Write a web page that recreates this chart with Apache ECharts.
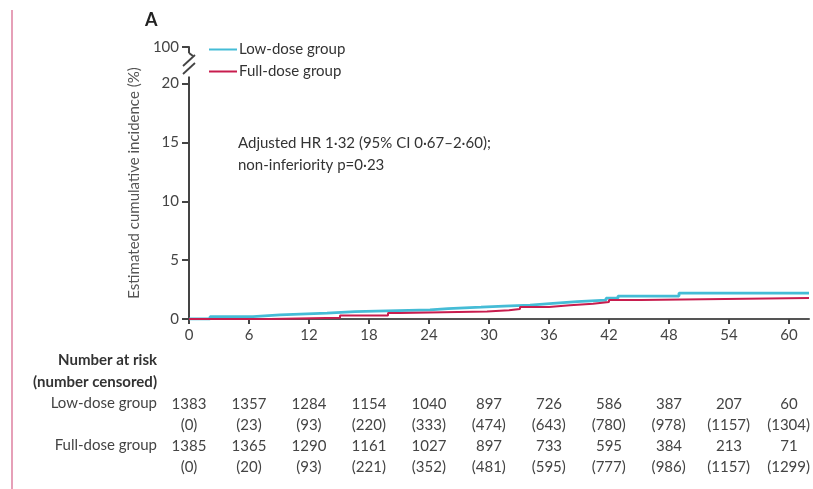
<!DOCTYPE html>
<html>
<head>
<meta charset="utf-8">
<script src="https://cdn.jsdelivr.net/npm/echarts@6/dist/echarts.min.js"></script>
<style>
html,body{margin:0;padding:0;background:#fff;}
#container{width:813px;height:489px;}
</style>
</head>
<body>
<div id="container"></div>
<script type="text/javascript">
// months shown on the x axis
var months = [0, 6, 12, 18, 24, 30, 36, 42, 48, 54, 60];
// y ticks below the break, and the value standing for "100" above it
var yTicks = [0, 5, 10, 15, 20];
var yTop = 23.1;

// cumulative incidence step curves (months, %)
var lowTime = [0, 2.1, 6.4, 9.1, 13.8, 16.6, 24.1, 25.9, 29.2, 31.5, 34.1, 36.4, 38.8, 41.7, 42.9, 49, 62];
var lowInc  = [0, 0.2, 0.35, 0.5, 0.62, 0.78, 0.88, 1.0, 1.1, 1.17, 1.32, 1.47, 1.6, 1.77, 1.95, 2.2, 2.2];
var fullTime = [0, 8.1, 15.1, 19.9, 21.1, 29.8, 32, 33.1, 36, 38.1, 40.4, 42, 45.2, 62];
var fullInc  = [0, 0.1, 0.3, 0.5, 0.64, 0.74, 0.84, 1.02, 1.17, 1.3, 1.44, 1.62, 1.78, 1.78];

// number at risk / censored
var lowRisk  = [1383, 1357, 1284, 1154, 1040, 897, 726, 586, 387, 207, 60];
var lowCens  = [0, 23, 93, 220, 333, 474, 643, 780, 978, 1157, 1304];
var fullRisk = [1385, 1365, 1290, 1161, 1027, 897, 733, 595, 384, 213, 71];
var fullCens = [0, 20, 93, 221, 352, 481, 595, 777, 986, 1157, 1299];

var FONT = 'Lato';
var cyan = '#45bcd6';
var red = '#c81d4e';

function pairs(t, v) {
	return t.map(function (x, i) { return [x, v[i]]; });
}

// one hidden axis per row of the risk table, labels placed on the month ticks
var rowTops = [403, 424, 445, 466];
var rowData = [lowRisk, lowCens, fullRisk, fullCens];
var rowParen = [false, true, false, true];

var grids = [{left: 189, right: 4, top: 47, bottom: 170}];
var xAxes = [{
	type: 'value', gridIndex: 0, min: 0, max: 62,
	axisLine: {lineStyle: {color: '#555', width: 2}},
	axisTick: {customValues: months, length: 5, lineStyle: {color: '#444', width: 2}},
	axisLabel: {customValues: months, color: '#444', fontSize: 15, fontFamily: FONT, margin: 9},
	splitLine: {show: false}
}];
rowTops.forEach(function (top, r) {
	grids.push({left: 189, right: 4, top: top, height: 1});
	xAxes.push({
		type: 'value', gridIndex: r + 1, min: 0, max: 62,
		axisLine: {show: false}, axisTick: {show: false}, splitLine: {show: false},
		axisLabel: {
			customValues: months, margin: 0, verticalAlign: 'middle',
			color: '#444', fontSize: 15, fontFamily: FONT,
			formatter: function (v) {
				var n = rowData[r][months.indexOf(v)];
				return rowParen[r] ? '(' + n + ')' : String(n);
			}
		}
	});
});

var yAxes = [{
	type: 'value', gridIndex: 0, min: 0, max: yTop,
	name: 'Estimated cumulative incidence (%)', nameLocation: 'middle', nameGap: 43,
	nameTextStyle: {color: '#555', fontSize: 15, fontFamily: FONT},
	axisLine: {show: true, lineStyle: {color: '#444', width: 2}},
	axisTick: {customValues: yTicks.concat([yTop]), length: 7, lineStyle: {color: '#444', width: 2}},
	axisLabel: {
		customValues: yTicks.concat([yTop]), color: '#444', fontSize: 15, fontFamily: FONT, margin: 10,
		formatter: function (v) { return v === yTop ? '100' : String(v); }
	},
	splitLine: {show: false}
}];
rowTops.forEach(function (top, r) {
	yAxes.push({type: 'value', gridIndex: r + 1, show: false});
});

var myChart = echarts.init(document.getElementById('container'));
var option = {
	animation: false,
	grid: grids,
	xAxis: xAxes,
	yAxis: yAxes,
	legend: {
		orient: 'vertical', left: 204, top: 37, itemGap: 7,
		itemWidth: 28, itemHeight: 2, icon: 'rect',
		textStyle: {color: '#333', fontSize: 15, fontFamily: FONT, padding: [0, 0, 0, -3]},
		data: ['Low-dose group', 'Full-dose group']
	},
	series: [
		{
			name: 'Low-dose group', type: 'line', step: 'end', showSymbol: false,
			color: cyan, lineStyle: {width: 2.8, color: cyan},
			data: pairs(lowTime, lowInc)
		},
		{
			name: 'Full-dose group', type: 'line', step: 'end', showSymbol: false,
			color: red, lineStyle: {width: 2, color: red},
			data: pairs(fullTime, fullInc)
		}
	]
};
myChart.setOption(option);

// axis break, labels and the table captions
var p20 = myChart.convertToPixel({xAxisIndex: 0, yAxisIndex: 0}, [0, 20]);
var pTop = myChart.convertToPixel({xAxisIndex: 0, yAxisIndex: 0}, [0, yTop]);
var ax = p20[0], yb = p20[1] - 7, yt = pTop[1] + 6;
var txt = {fill: '#444', font: '15px ' + FONT, textAlign: 'right', textVerticalAlign: 'middle'};
var bold = {fill: '#333', font: 'bold 15px ' + FONT, textAlign: 'right', textVerticalAlign: 'middle'};
myChart.setOption({
	graphic: [
		{type: 'line', shape: {x1: 12, y1: 10, x2: 12, y2: 489}, style: {stroke: '#e6a0b8', lineWidth: 2}},
		{type: 'text', x: 145, y: 20, style: {text: 'A', fill: '#222', font: 'bold 18px ' + FONT, textVerticalAlign: 'middle'}},
		{type: 'rect', shape: {x: ax - 6, y: yt, width: 12, height: yb - yt}, style: {fill: '#fff'}, z: 50},
		{type: 'line', shape: {x1: ax, y1: yt, x2: ax + 4, y2: yt + 3}, style: {stroke: '#444', lineWidth: 2}, z: 51},
		{type: 'line', shape: {x1: ax - 6, y1: yt + 13, x2: ax + 6, y2: yt + 2}, style: {stroke: '#444', lineWidth: 1.8}, z: 51},
		{type: 'line', shape: {x1: ax - 6, y1: yt + 21, x2: ax + 6, y2: yt + 10}, style: {stroke: '#444', lineWidth: 1.8}, z: 51},
		{type: 'text', x: 238, y: 143, style: {text: 'Adjusted HR 1·32 (95% CI 0·67–2·60);', fill: '#333', font: '15px ' + FONT, textVerticalAlign: 'middle'}},
		{type: 'text', x: 238, y: 165, style: {text: 'non-inferiority p=0·23', fill: '#333', font: '15px ' + FONT, textVerticalAlign: 'middle'}},
		{type: 'text', x: 157, y: 360, style: echarts.util.extend({text: 'Number at risk'}, bold)},
		{type: 'text', x: 157, y: 382, style: echarts.util.extend({text: '(number censored)'}, bold)},
		{type: 'text', x: 157, y: 403, style: echarts.util.extend({text: 'Low-dose group'}, txt)},
		{type: 'text', x: 157, y: 445, style: echarts.util.extend({text: 'Full-dose group'}, txt)}
	]
});
</script>
</body>
</html>
